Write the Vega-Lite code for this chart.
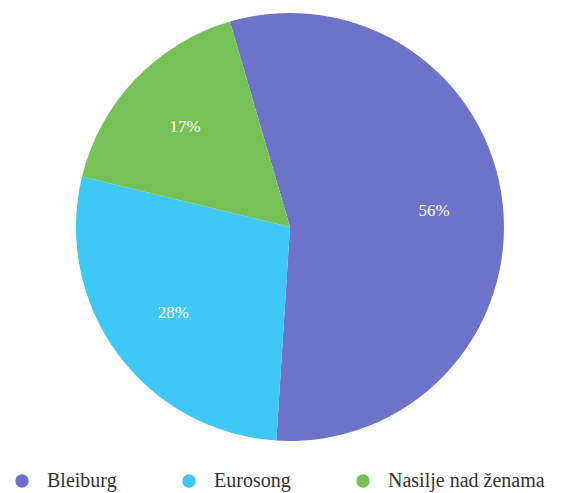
{
  "$schema": "https://vega.github.io/schema/vega-lite/v6.json",
  "autosize": "none",
  "width": 568,
  "height": 454,
  "padding": {"left": 6, "top": 0, "right": 0, "bottom": 39},
  "background": "#ffffff",
  "data": {
    "values": [
      {"tema": "Bleiburg", "udio": 55.6, "label": "56%"},
      {"tema": "Eurosong", "udio": 27.8, "label": "28%"},
      {"tema": "Nasilje nad ženama", "udio": 16.7, "label": "17%"}
    ]
  },
  "encoding": {
    "theta": {
      "field": "udio",
      "type": "quantitative",
      "stack": true,
      "scale": {"range": [-0.2845, 5.9987]}
    },
    "order": {"field": "udio", "type": "quantitative", "sort": "descending"}
  },
  "layer": [
    {
      "mark": {"type": "arc", "outerRadius": 214},
      "encoding": {
        "color": {
          "field": "tema",
          "type": "nominal",
          "scale": {
            "domain": ["Bleiburg", "Eurosong", "Nasilje nad ženama"],
            "range": ["#6c73c8", "#3fc7f6", "#77c257"]
          },
          "legend": {
            "title": null,
            "orient": "none",
            "direction": "horizontal",
            "legendX": 6,
            "legendY": 471,
            "symbolType": "circle",
            "symbolSize": 180,
            "symbolStrokeWidth": 0,
            "labelFontSize": 20,
            "labelColor": "#333333",
            "labelOffset": 15,
            "columnPadding": 62,
            "labelLimit": 300
          }
        }
      }
    },
    {
      "mark": {
        "type": "text",
        "radius": 145,
        "font": "Liberation Serif",
        "fontSize": 17,
        "color": "#ffffff"
      },
      "encoding": {
        "text": {"field": "label"},
        "detail": {"field": "tema"}
      }
    }
  ],
  "config": {
    "view": {"stroke": null},
    "font": "Liberation Serif",
    "legend": {"labelFont": "serif"}
  }
}
